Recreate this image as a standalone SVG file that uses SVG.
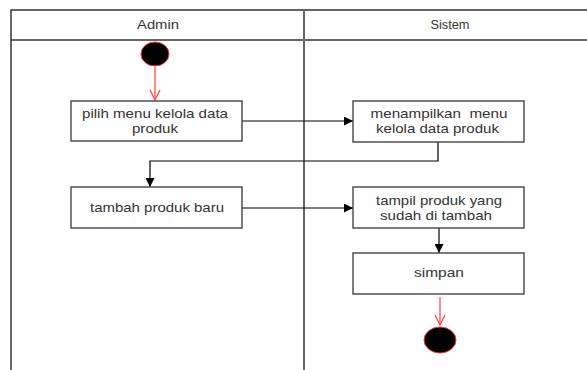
<svg xmlns="http://www.w3.org/2000/svg" width="587" height="370" viewBox="0 0 587 370">
  <style>
    .lane { stroke: #333; stroke-width: 1.5; fill: none; }
    .divider { stroke: #666; stroke-width: 2; fill: none; }
    .act { fill: #fff; stroke: #444; stroke-width: 1.4; }
    .lbl { font-family: "Liberation Sans", Arial, sans-serif; font-size: 13px; fill: #333; text-anchor: middle; }
    .flow { stroke: #000; stroke-width: 1.2; fill: none; }
    .redflow { stroke: #ff4d4d; stroke-width: 1.3; fill: none; }
    .node-end { fill: #000; stroke: #ff3333; stroke-width: 1; }
  </style>
  <defs>
    <marker id="tri" viewBox="0 0 10 10" refX="10" refY="5" markerWidth="9" markerHeight="9" markerUnits="userSpaceOnUse" orient="auto">
      <path d="M0,0 L10,5 L0,10 Z" fill="#000"/>
    </marker>
    <marker id="vee" viewBox="0 0 12 12" refX="11" refY="6" markerWidth="12" markerHeight="12" markerUnits="userSpaceOnUse" orient="auto">
      <path d="M1,1 L11,6 L1,11" fill="none" stroke="#ff4d4d" stroke-width="1.3"/>
    </marker>
  </defs>

  <rect width="587" height="370" fill="#fff"/>

  <!-- swimlanes -->
  <g id="lanes">
    <path class="lane" d="M11,370 V10 H587"/>
    <path class="lane" d="M11,40 H587" stroke-width="1.2"/>
    <path class="divider" d="M304,10 V370"/>
    <text class="lbl" x="158" y="29" textLength="42" lengthAdjust="spacingAndGlyphs">Admin</text>
    <text class="lbl" x="450" y="29" textLength="39" lengthAdjust="spacingAndGlyphs">Sistem</text>
  </g>

  <!-- connectors -->
  <g id="connectors">
    <path class="redflow" d="M155,67 V100" marker-end="url(#vee)"/>
    <path class="flow" d="M242,121 H353" marker-end="url(#tri)"/>
    <path class="flow" d="M438,142 V161 H150 V187" marker-end="url(#tri)"/>
    <path class="flow" d="M242,208 H353" marker-end="url(#tri)"/>
    <path class="flow" d="M439,228 V253" marker-end="url(#tri)"/>
    <path class="redflow" d="M440,297 V325" marker-end="url(#vee)"/>
  </g>

  <g id="start">
    <ellipse class="node-end" cx="155" cy="54" rx="14" ry="12"/>
  </g>

  <g id="pilih-menu">
    <rect class="act" x="71" y="101" width="171" height="40"/>
    <text class="lbl" x="155" y="118" textLength="146" lengthAdjust="spacingAndGlyphs">pilih menu kelola data</text>
    <text class="lbl" x="155" y="132.5" textLength="46" lengthAdjust="spacingAndGlyphs">produk</text>
  </g>

  <g id="menampilkan-menu">
    <rect class="act" x="353" y="101" width="171" height="41"/>
    <text class="lbl" x="439" y="118" textLength="137" lengthAdjust="spacingAndGlyphs" xml:space="preserve">menampilkan  menu</text>
    <text class="lbl" x="437.5" y="133" textLength="123" lengthAdjust="spacingAndGlyphs">kelola data produk</text>
  </g>

  <g id="tambah-produk">
    <rect class="act" x="71" y="187" width="171" height="41"/>
    <text class="lbl" x="157" y="212" textLength="134" lengthAdjust="spacingAndGlyphs">tambah produk baru</text>
  </g>

  <g id="tampil-produk">
    <rect class="act" x="353" y="187" width="171" height="41"/>
    <text class="lbl" x="439" y="205" textLength="126" lengthAdjust="spacingAndGlyphs">tampil produk yang</text>
    <text class="lbl" x="436" y="219.5" textLength="112" lengthAdjust="spacingAndGlyphs">sudah di tambah</text>
  </g>

  <g id="simpan">
    <rect class="act" x="353" y="253" width="171" height="41"/>
    <text class="lbl" x="439" y="277" textLength="50" lengthAdjust="spacingAndGlyphs">simpan</text>
  </g>

  <g id="end">
    <ellipse class="node-end" cx="440" cy="340" rx="16" ry="13"/>
  </g>
</svg>
